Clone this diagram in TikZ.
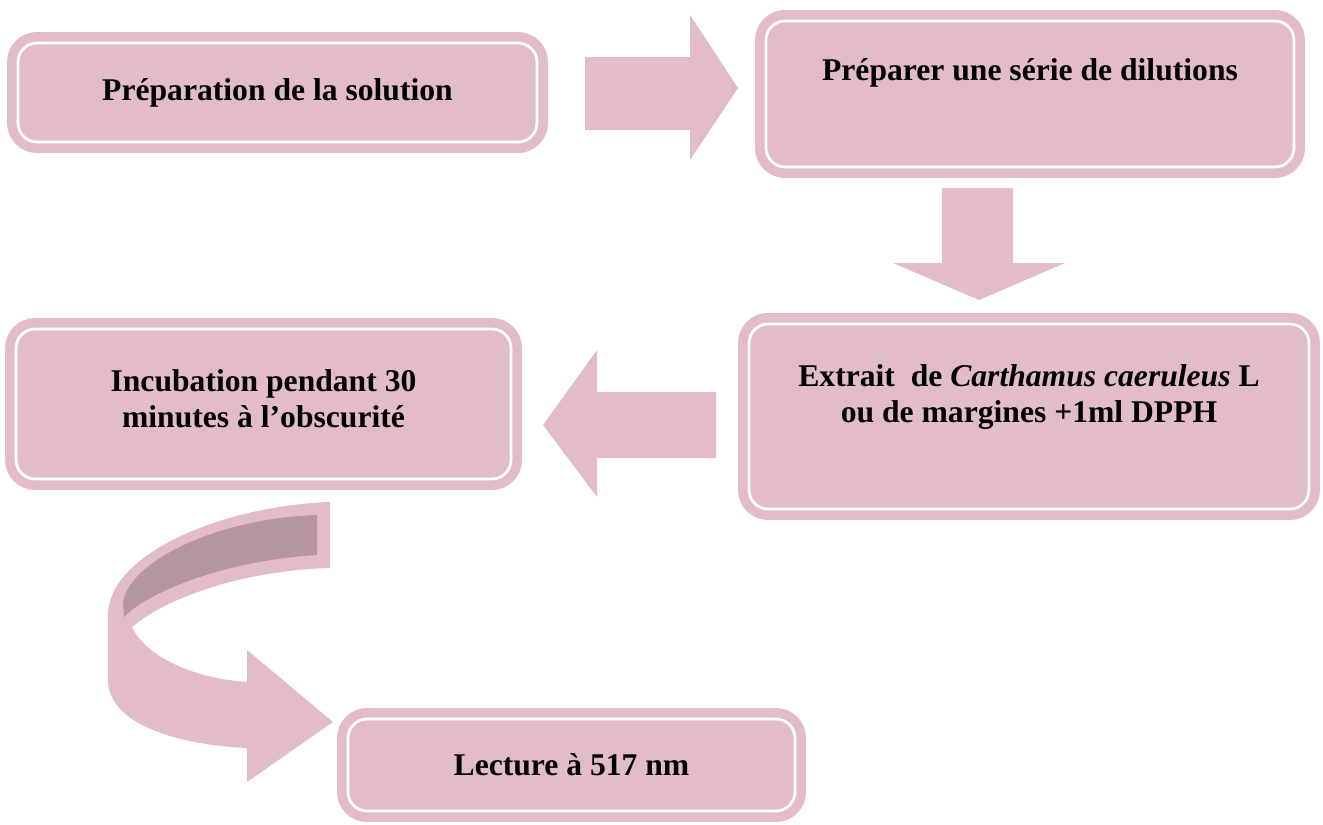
\documentclass[tikz,border=0pt]{standalone}
\usepackage{fontspec}
\setmainfont{Liberation Serif}
\definecolor{rose}{HTML}{E2BCC9}
\definecolor{roseshade}{HTML}{B596A0}
\tikzset{
  stepbox/.style={fill=rose, draw=white, line width=0.055cm, rounded corners=0.38cm,
    preaction={draw=rose, line width=0.44cm}, inner sep=0pt},
  steptext/.style={font=\bfseries\fontsize{18}{20.5}\selectfont, align=center, text=black},
  blockarrow/.style={fill=rose, draw=none}
}
\begin{document}
\begin{tikzpicture}[x=0.02cm, y=-0.02cm]
\useasboundingbox (0,0) rectangle (1323,825);

% boxes (node outline = white rule; pink rim outside it)
\node[stepbox, minimum width=10.38cm, minimum height=1.98cm] (prep) at (277.5,92.5) {};
\node[stepbox, minimum width=10.56cm, minimum height=2.92cm] (dil) at (1030,94) {};
\node[stepbox, minimum width=11.2cm, minimum height=3.7cm] (ext) at (1029,416.5) {};
\node[stepbox, minimum width=9.9cm, minimum height=3.0cm] (inc) at (263.5,404) {};
\node[stepbox, minimum width=8.94cm, minimum height=1.84cm] (lec) at (571.5,765) {};

% texts
\node[steptext] (prept) at (prep) {Préparation de la solution};
\node[steptext] (dilt) at (1030,73) {Préparer une série de dilutions};
\node[steptext] (extt) at (1029,397) {Extrait\ \ de \textit{Carthamus caeruleus} L\\ou de margines +1ml DPPH};
\node[steptext] (inct) at (263.5,399) {Incubation pendant 30\\minutes à l’obscurité};
\node[steptext] (lect) at (lec) {Lecture à 517 nm};

% block arrows
\fill[blockarrow] (585,57) -- (690,57) -- (690,15) -- (738,88) -- (690,160) -- (690,130) -- (585,130) -- cycle;
\fill[blockarrow] (942,188) -- (1013,188) -- (1013,263) -- (1065,263) -- (979,300) -- (893,263) -- (942,263) -- cycle;
\fill[blockarrow] (716,392) -- (597,392) -- (597,350) -- (543,425) -- (597,497) -- (597,458) -- (716,458) -- cycle;

% curved ribbon arrow down to the last step
\fill[blockarrow] (330,502) .. controls (220,506) and (108,555) .. (108,615)
  -- (108,680) .. controls (108,725) and (180,745) .. (247,748)
  -- (247,782) -- (333,722) -- (247,650) -- (247,682)
  .. controls (190,678) and (145,655) .. (132,627)
  .. controls (170,595) and (250,570) .. (330,568) -- cycle;
\fill[roseshade] (317,515) -- (317,555) .. controls (230,560) and (150,590) .. (124,617)
  -- (123,602) .. controls (130,560) and (220,518) .. cycle;
\end{tikzpicture}
\end{document}
